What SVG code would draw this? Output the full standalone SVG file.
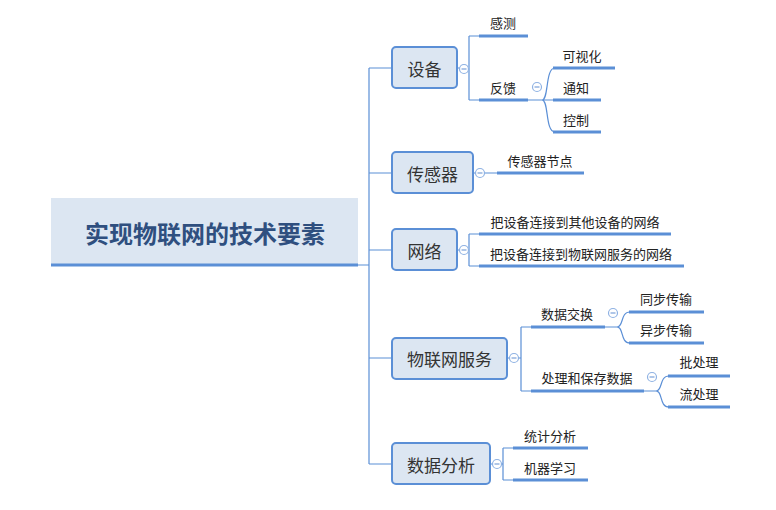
<svg xmlns="http://www.w3.org/2000/svg" width="776" height="510" viewBox="0 0 776 510">
<style>
.bg{fill:#ffffff}
.conn{fill:none;stroke:#5b8fd6;stroke-width:1.2}
.ul{stroke:#5b8fd6;stroke-width:3;fill:none}
.box{fill:#dce6f2;stroke:#5b8fd6;stroke-width:2}
.fold{fill:#ffffff;stroke:#8fb2e3;stroke-width:1.2}
.minus{stroke:#7aa0d8;stroke-width:1.2}
.t1{font-family:"Noto Sans CJK SC","Noto Sans",sans-serif;font-size:17px;fill:#333333;text-anchor:middle;dominant-baseline:central}
.t2{font-family:"Noto Sans CJK SC","Noto Sans",sans-serif;font-size:13px;fill:#222222;text-anchor:middle;dominant-baseline:central}
.root{font-family:"Noto Sans CJK SC","Noto Sans",sans-serif;font-size:24px;font-weight:bold;fill:#2f4f7f;text-anchor:middle;dominant-baseline:central}
</style>
<defs>
<g id="fold"><circle class="fold" cx="0" cy="0" r="4.5"/><line class="minus" x1="-2.5" y1="0" x2="2.5" y2="0"/></g>
</defs>
<rect class="bg" x="0" y="0" width="776" height="510"/>
<g id="connectors">
<path class="conn" d="M358,265 H369 M369,68 V464 M369,68 H392 M369,173 H392 M369,250 H392 M369,358 H392 M369,464 H392"/>
<path class="conn" d="M457,68 H460 M469,68 H469 M469,36 V100 M469,36 H479 M469,100 H479"/>
<path class="conn" d="M528,100 H542 C549,100 545,68 555,68 M542,100 H555 M542,100 C549,100 545,132 555,132"/>
<path class="conn" d="M473,173 H476 M484,173 H497"/>
<path class="conn" d="M457,250 H460 M469,234 V266 M469,234 H479 M469,266 H479"/>
<path class="conn" d="M507,358 H510 M518,358 H521 M521,327 V391 M521,327 H531 M521,391 H531"/>
<path class="conn" d="M605,327 H617 C624,327 620,312 630,312 M617,327 C624,327 620,343 630,343"/>
<path class="conn" d="M644,391 H656 C663,391 659,376 669,376 M656,391 C663,391 659,407 669,407"/>
<path class="conn" d="M490,464 H493 M501,464 H503 M503,448 V480 M503,448 H513 M503,480 H513"/>
</g>
<g id="root">
<rect x="51" y="198" width="307" height="67" fill="#dce6f2"/>
<line class="ul" x1="51" y1="265" x2="358" y2="265"/>
<text class="root" x="205" y="232">实现物联网的技术要素</text>
</g>
<g id="n-shebei">
<rect class="box" x="392" y="47" width="65" height="41" rx="4"/>
<text class="t1" x="424.5" y="68">设备</text>
<use href="#fold" x="464" y="69"/>
</g>
<g id="n-ganče">
<line class="ul" x1="479" y1="36" x2="528" y2="36"/>
<text class="t2" x="503" y="22">感测</text>
</g>
<g id="n-fankui">
<line class="ul" x1="479" y1="100" x2="528" y2="100"/>
<text class="t2" x="503" y="87">反馈</text>
<use href="#fold" x="537" y="87"/>
</g>
<g id="n-keshihua">
<line class="ul" x1="553" y1="68" x2="615" y2="68"/>
<text class="t2" x="582" y="55">可视化</text>
</g>
<g id="n-tongzhi">
<line class="ul" x1="553" y1="100" x2="601" y2="100"/>
<text class="t2" x="576" y="87">通知</text>
</g>
<g id="n-kongzhi">
<line class="ul" x1="553" y1="132" x2="601" y2="132"/>
<text class="t2" x="576" y="119">控制</text>
</g>
<g id="n-chuanganqi">
<rect class="box" x="392" y="152" width="81" height="41" rx="4"/>
<text class="t1" x="432.5" y="173">传感器</text>
<use href="#fold" x="480" y="173"/>
</g>
<g id="n-jiedian">
<line class="ul" x1="497" y1="173" x2="584" y2="173"/>
<text class="t2" x="540" y="160">传感器节点</text>
</g>
<g id="n-wangluo">
<rect class="box" x="392" y="229" width="65" height="41" rx="4"/>
<text class="t1" x="424.5" y="250">网络</text>
<use href="#fold" x="464" y="250"/>
</g>
<g id="n-wl1">
<line class="ul" x1="479" y1="234" x2="671" y2="234"/>
<text class="t2" x="575" y="221">把设备连接到其他设备的网络</text>
</g>
<g id="n-wl2">
<line class="ul" x1="479" y1="266" x2="684" y2="266"/>
<text class="t2" x="581" y="253">把设备连接到物联网服务的网络</text>
</g>
<g id="n-fuwu">
<rect class="box" x="392" y="338" width="115" height="41" rx="4"/>
<text class="t1" x="449.5" y="358">物联网服务</text>
<use href="#fold" x="514" y="358"/>
</g>
<g id="n-jiaohuan">
<line class="ul" x1="531" y1="327" x2="605" y2="327"/>
<text class="t2" x="567" y="313">数据交换</text>
<use href="#fold" x="613" y="313"/>
</g>
<g id="n-tongbu">
<line class="ul" x1="629" y1="312" x2="704" y2="312"/>
<text class="t2" x="666" y="298">同步传输</text>
</g>
<g id="n-yibu">
<line class="ul" x1="629" y1="343" x2="704" y2="343"/>
<text class="t2" x="666" y="329">异步传输</text>
</g>
<g id="n-chuli">
<line class="ul" x1="531" y1="391" x2="644" y2="391"/>
<text class="t2" x="587" y="377">处理和保存数据</text>
<use href="#fold" x="652" y="377"/>
</g>
<g id="n-pi">
<line class="ul" x1="668" y1="376" x2="730" y2="376"/>
<text class="t2" x="699" y="361">批处理</text>
</g>
<g id="n-liu">
<line class="ul" x1="668" y1="407" x2="730" y2="407"/>
<text class="t2" x="699" y="393">流处理</text>
</g>
<g id="n-fenxi">
<rect class="box" x="392" y="443" width="98" height="41" rx="4"/>
<text class="t1" x="441" y="464">数据分析</text>
<use href="#fold" x="497" y="464"/>
</g>
<g id="n-tongji">
<line class="ul" x1="513" y1="448" x2="588" y2="448"/>
<text class="t2" x="550" y="435">统计分析</text>
</g>
<g id="n-jiqi">
<line class="ul" x1="513" y1="480" x2="588" y2="480"/>
<text class="t2" x="550" y="467">机器学习</text>
</g>
</svg>
